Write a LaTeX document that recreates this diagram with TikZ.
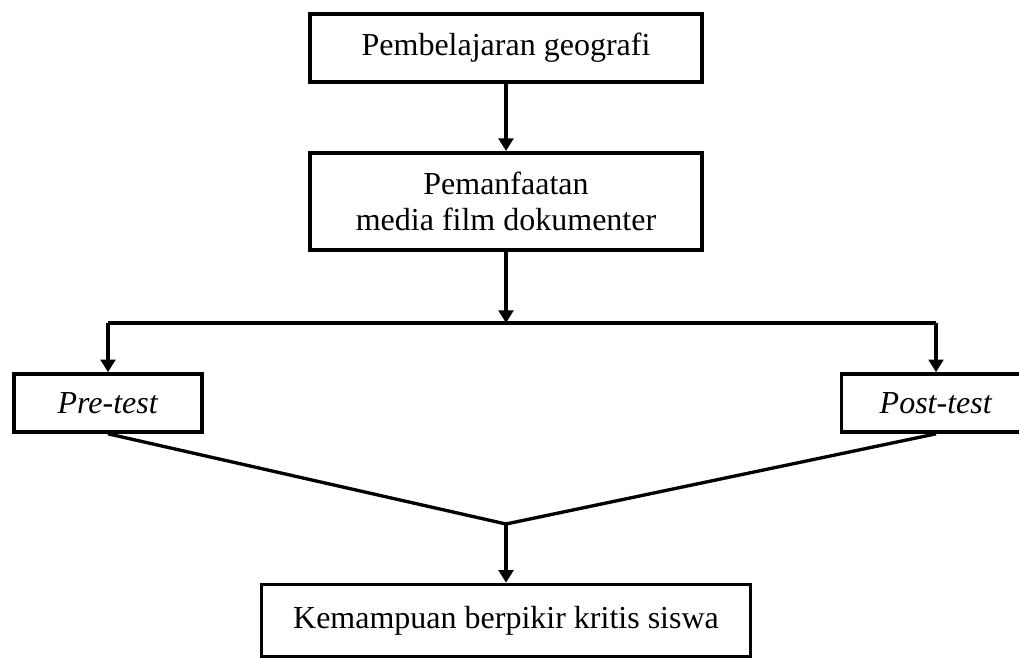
\documentclass[tikz,border=0pt]{standalone}
\usepackage{fontspec}
\setmainfont{Liberation Serif}
\usetikzlibrary{arrows.meta,positioning}

\tikzset{
  kotak/.style={draw=black, line width=2.7pt, fill=white, align=center,
    inner sep=0pt, font=\fontsize{24}{27.5}\selectfont},
  panah/.style={line width=2.5pt, -{Triangle[length=9.5pt,width=11pt]}},
  garis/.style={line width=2.5pt}
}

\begin{document}
\begin{tikzpicture}[x=0.75pt, y=-0.75pt]
 \useasboundingbox (0,0) rectangle (1019,657);
 \clip (0,0) rectangle (1019,657);

 \node[kotak, minimum width=294pt, minimum height=51pt] (geo) at (506,48) {Pembelajaran geografi};
 \node[kotak, minimum width=294pt, minimum height=73pt] (media) at (506,201.5) {Pemanfaatan\\media film dokumenter};
 \node[kotak, minimum width=141pt, minimum height=43.5pt] (pre) at (108,403) {\textit{Pre-test}};
 \node[kotak, minimum width=142pt, minimum height=43.5pt] (post) at (936,403) {\textit{Post-test}};
 \node[kotak, minimum width=367pt, minimum height=54pt] (hasil) at (506,620.5) {Kemampuan berpikir kritis siswa};

 \coordinate (bagi) at (506,323);
 \coordinate (kiri) at (108,323);
 \coordinate (kanan) at (936,323);
 \coordinate (temu) at (506,524);

 % alur utama
 \draw[panah] (geo.south) -- (media.north);
 \draw[panah] (media.south) -- (bagi);
 \draw[garis] (kiri) -- (kanan);
 \draw[panah] (kiri) -- (pre.north);
 \draw[panah] (kanan) -- (post.north);

 % gabungan hasil tes
 \draw[garis] (pre.south) -- (temu) -- (post.south);
 \draw[panah] (temu) -- (hasil.north);
\end{tikzpicture}
\end{document}
